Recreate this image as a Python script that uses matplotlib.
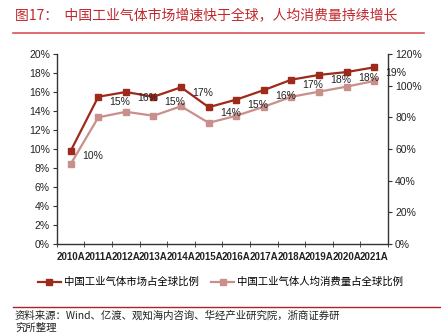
import matplotlib
matplotlib.use("Agg")
import matplotlib.pyplot as plt
from matplotlib.ticker import FixedLocator, PercentFormatter
from matplotlib.lines import Line2D

plt.rcParams['font.family'] = ['Liberation Sans', 'Noto Sans CJK SC', 'DejaVu Sans']

# data
years = ["2010A", "2011A", "2012A", "2013A", "2014A", "2015A",
         "2016A", "2017A", "2018A", "2019A", "2020A", "2021A"]
market_share = [9.8, 15.5, 16.0, 15.5, 16.5, 14.4, 15.2, 16.2, 17.3, 17.8, 18.1, 18.6]
market_labels = ["10%", "15%", "16%", "15%", "17%", "14%",
                 "15%", "16%", "17%", "18%", "18%", "19%"]
per_capita = [50.5, 80.0, 83.5, 81.0, 87.0, 76.5, 81.0, 86.7, 93.0, 96.2, 99.4, 103.0]

title = "图17：  中国工业气体市场增速快于全球，人均消费量持续增长"
legend_names = ["中国工业气体市场占全球比例", "中国工业气体人均消费量占全球比例"]
source = "资料来源：Wind、亿渡、观知海内咨询、华经产业研究院，浙商证券研\n究所整理"

RED = "#9E2A1B"
PINK = "#C98F8B"
TITLE_RED = "#C0272D"
CJK = ['Noto Sans CJK SC', 'DejaVu Sans']

fig = plt.figure(figsize=(4.41, 3.35), dpi=100)
ax = fig.add_axes([0.129, 0.2716, 0.751, 0.5672])
ax2 = ax.twinx()

x = list(range(len(years)))
ax.plot(x, market_share, color=RED, lw=1.6, marker="s", ms=5, zorder=3)
ax2.plot(x, per_capita, color=PINK, lw=1.6, marker="s", ms=5, zorder=2)
ax.set_zorder(ax2.get_zorder() + 1)
ax.patch.set_visible(False)

for xi, yi, lab in zip(x, market_share, market_labels):
    ax.annotate(lab, (xi, yi), xytext=(8, -4), textcoords="offset points",
                fontsize=7.5, va="center", ha="left", color="#222222")

ax.set_xlim(-0.5, len(years) - 0.5)
ax.set_ylim(0, 20)
ax2.set_ylim(0, 120)
ax.set_yticks(range(0, 21, 2))
ax2.set_yticks(range(0, 121, 20))
ax.yaxis.set_major_formatter(PercentFormatter(decimals=0))
ax2.yaxis.set_major_formatter(PercentFormatter(decimals=0))

ax.set_xticks(x)
ax.set_xticklabels(years, fontsize=7, fontweight="bold", color="#222222")
ax.xaxis.set_minor_locator(FixedLocator([i + 0.5 for i in range(-1, len(years))]))
ax.tick_params(axis="x", which="major", length=0, pad=6)
ax.tick_params(axis="x", which="minor", length=4, direction="inout", color="#333333")
ax.tick_params(axis="y", labelsize=7.5, length=3, direction="out", color="#333333",
               labelcolor="#222222", pad=2)
ax2.tick_params(axis="y", labelsize=7.5, length=3, direction="out", color="#333333",
                labelcolor="#222222", pad=2)

for a in (ax, ax2):
    a.spines["top"].set_visible(False)
    for s in ("left", "right", "bottom"):
        a.spines[s].set_color("#333333")
        a.spines[s].set_linewidth(1.0)
ax.spines["right"].set_visible(False)
ax2.spines["left"].set_visible(False)
ax2.spines["bottom"].set_visible(False)

handles = [Line2D([], [], color=RED, lw=1.6, marker="s", ms=5),
           Line2D([], [], color=PINK, lw=1.6, marker="s", ms=5)]
fig.legend(handles, legend_names, loc="center", bbox_to_anchor=(0.5, 0.158),
           ncol=2, frameon=False, prop={"family": CJK, "size": 7.5},
           handlelength=2.2, handletextpad=0.3, columnspacing=1.2)

fig.text(0.035, 0.955, title, fontsize=10, color=TITLE_RED, family=CJK,
         va="center", ha="left")
fig.add_artist(Line2D([0.03, 0.962], [0.901, 0.901], color="#D9545A", lw=1.2))
fig.add_artist(Line2D([0.03, 1.0], [0.084, 0.084], color="#B0202A", lw=1.0))
fig.text(0.034, 0.073, source, fontsize=7.5, color="#222222", family=CJK,
         va="top", ha="left", linespacing=1.15)

fig.savefig("out.png", dpi=100)
